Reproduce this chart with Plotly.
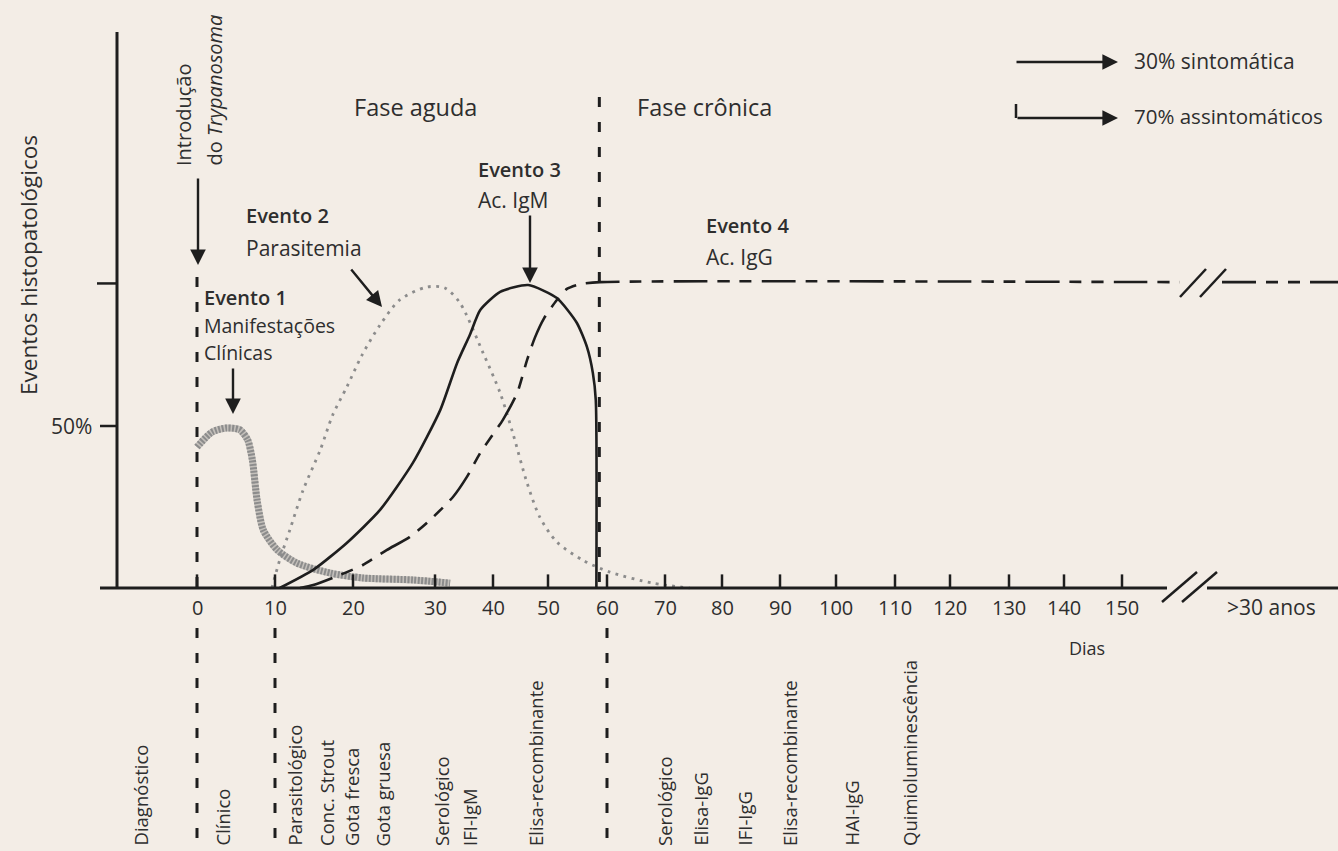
import numpy as np
import plotly.graph_objects as go

# ---------------- data ----------------
TICK_DAYS = [0, 10, 20, 30, 40, 50, 60, 70, 80, 90, 100, 110, 120, 130, 140, 150]
TICK_LABELS = [str(d) for d in TICK_DAYS]
LONG_TERM_LABEL = ">30 anos"

# Evento 1 - Manifestações clínicas
CLIN_DAYS = [0, 1.9, 3.8, 5.5, 6.5, 7.1, 7.7, 8.5, 10.3, 12.8, 17.1, 21.2, 27.3, 32.6]
CLIN_PCT = [43.5, 48.1, 49.4, 48.8, 45.7, 39.5, 27.2, 17.9, 11.7, 7.7, 4.6, 3.1, 2.5, 1.5]

# Evento 2 - Parasitemia
PARA_DAYS = [9.6, 10.6, 11.9, 13.6, 15.8, 17.4, 19.2, 21.1, 23.3, 25.7, 29.0, 31.7, 34.3,
             38.3, 41.3, 43.6, 46.2, 48.5, 51.5, 55.9, 60.5, 67.9, 74.3]
PARA_PCT = [0, 8.6, 17.9, 30.2, 42.6, 53.4, 62.0, 71.9, 81.2, 88.9, 92.9, 92.6, 88.0,
            72.5, 60.2, 47.8, 32.4, 21.9, 14.2, 8.6, 4.9, 1.5, 0]

# Evento 3 - Ac. IgM
IGM_DAYS = [10.6, 14.9, 19.2, 23.3, 27.3, 30.9, 33.8, 36.0, 37.8, 41.3, 46.4, 51.5, 54.9,
            56.6, 57.6, 58.1, 58.2]
IGM_PCT = [0, 5.6, 13.9, 24.1, 38.6, 54.9, 69.4, 78.1, 85.8, 91.4, 93.5, 89.5, 81.8,
           74.4, 66.4, 58.0, 0]

# Evento 4 - Ac. IgG
IGG_DAYS = [13.2, 14.9, 18.3, 21.2, 24.1, 26.9, 29.4, 33.1, 35.5, 37.8, 41.8, 44.4, 46.2,
            47.6, 49.3, 51.5, 53.2, 55.4, 58.8, 160]
IGG_PCT = [0, 0.9, 4.0, 7.1, 11.7, 15.7, 21.0, 28.1, 34.3, 41.7, 51.9, 60.2, 70.4,
           77.2, 83.3, 88.9, 92.3, 93.8, 94.4, 94.4]
IGG_LONG_TERM_PCT = 94.4

Y_TICKS = [50, 94]
Y_TICK_TEXT = ["50%", ""]

INTRO_DAY = 0
PHASE_BOUNDARY_DAY = 58.7
DIAG_MARKER_DAYS = [0, 10, 60]

DIAG_LABELS = ["Diagnóstico", "Clínico", "Parasitológico", "Conc. Strout", "Gota fresca",
               "Gota gruesa", "Serológico", "IFI-IgM", "Elisa-recombinante", "Serológico",
               "Elisa-IgG", "IFI-IgG", "Elisa-recombinante", "HAI-IgG", "Quimioluminescência"]

# ---------------- layout / scale ----------------
W, H = 1338, 851
BG = "#f3ede6"
INK = "#1e1e1e"
TXT = "#2e2e2e"
GRAY = "#8c8c8c"
FONT = "Open Sans"

# non-uniform time scale of the original drawing (position of each day tick)
TICK_POS = [197, 275, 353, 435, 493, 548, 607, 665, 722, 780, 836, 895, 950, 1009, 1064, 1122]
AXIS_PY = 588          # vertical position of 0 %
PX_PER_PCT = 3.24      # vertical scale
Y_RANGE = [-(H - AXIS_PY) / PX_PER_PCT, AXIS_PY / PX_PER_PCT]


def xpos(days):
    d = np.asarray(days, dtype=float)
    p = np.interp(d, TICK_DAYS, TICK_POS)
    slope = (TICK_POS[-1] - TICK_POS[-2]) / (TICK_DAYS[-1] - TICK_DAYS[-2])
    return np.where(d > TICK_DAYS[-1], TICK_POS[-1] + (d - TICK_DAYS[-1]) * slope, p)


def pct_of(py):
    return (AXIS_PY - py) / PX_PER_PCT


def P(px, py):
    return px / W, 1 - py / H


fig = go.Figure()

# clinical (striped grey band)
fig.add_trace(go.Scatter(x=xpos(CLIN_DAYS), y=CLIN_PCT, mode="lines",
                         line=dict(color="#c4c0bb", width=7, shape="spline", smoothing=0.7),
                         hoverinfo="skip", showlegend=False))
fig.add_trace(go.Scatter(x=xpos(CLIN_DAYS), y=CLIN_PCT, mode="lines",
                         line=dict(color=GRAY, width=7, shape="spline", smoothing=0.7, dash="2px,1.5px"),
                         hoverinfo="skip", showlegend=False))
# parasitemia (dotted)
fig.add_trace(go.Scatter(x=xpos(PARA_DAYS), y=PARA_PCT, mode="lines",
                         line=dict(color=GRAY, width=2.8, shape="spline", smoothing=0.8, dash="2.8px,5.5px"),
                         hoverinfo="skip", showlegend=False))
# IgM (solid)
fig.add_trace(go.Scatter(x=xpos(IGM_DAYS), y=IGM_PCT, mode="lines",
                         line=dict(color=INK, width=2.6, shape="spline", smoothing=0.6),
                         hoverinfo="skip", showlegend=False))
# IgG (dash-dot)
IGG_DASH = "34px,10px,12px,10px,12px,10px"
fig.add_trace(go.Scatter(x=xpos(IGG_DAYS), y=IGG_PCT, mode="lines",
                         line=dict(color=INK, width=2.6, shape="spline", smoothing=0.6, dash=IGG_DASH),
                         hoverinfo="skip", showlegend=False))
LONG_SEG = [1222, W]
fig.add_trace(go.Scatter(x=LONG_SEG, y=[IGG_LONG_TERM_PCT] * 2, mode="lines",
                         line=dict(color=INK, width=2.6, dash=IGG_DASH),
                         hoverinfo="skip", showlegend=False))

shapes = []


def seg(x0, y0, x1, y1, width=2.5, dash=None, color=INK, xref="x", yref="y"):
    line = dict(color=color, width=width)
    if dash:
        line["dash"] = dash
    shapes.append(dict(type="line", xref=xref, yref=yref, x0=x0, y0=y0, x1=x1, y1=y1, line=line))


# axes
seg(100, 0, 1167, 0, width=2.8)
seg(1207, 0, W, 0, width=2.8)
seg(117, 0, 117, pct_of(32), width=3)
for d in TICK_DAYS:
    x = float(xpos(d))
    seg(x, 0, x, 4.2, width=2.5)
seg(100, Y_TICKS[0], 117, Y_TICKS[0], width=2.5)
seg(97, Y_TICKS[1], 117, Y_TICKS[1], width=2.5)

# axis breaks
for dx in (0, 20):
    seg(1162 + dx, pct_of(602), 1197 + dx, pct_of(572), width=2.5)
    seg(1180 + dx, pct_of(297), 1206 + dx, pct_of(269), width=2.5)

# vertical dashed markers
VDASH = "10px,15px"
x0d = float(xpos(INTRO_DAY))
seg(x0d, pct_of(277), x0d, 0, width=3, dash=VDASH)
xb = float(xpos(PHASE_BOUNDARY_DAY))
seg(xb, pct_of(97), xb, 0, width=3, dash=VDASH)
for d in DIAG_MARKER_DAYS:
    x = float(xpos(d))
    seg(x, pct_of(628), x, pct_of(H), width=3, dash=VDASH)

# legend L-shaped connector
seg(1016 / W, 1 - 104 / H, 1016 / W, 1 - 118 / H, width=2.5, xref="paper", yref="paper")

anns = []


def txt(text, px, py, size=21, xa="left", ya="middle", angle=0, weight="normal", xref="paper"):
    x, y = P(px, py)
    anns.append(dict(text=text, x=x if xref == "paper" else px, y=y, xref=xref, yref="paper",
                     showarrow=False, xanchor=xa, yanchor=ya, textangle=angle, borderpad=0,
                     font=dict(family=FONT, size=size, color=TXT, weight=weight)))


def arrow(tip_px, tip_py, tail_px, tail_py):
    x, y = P(tip_px, tip_py)
    anns.append(dict(text="", x=x, y=y, xref="paper", yref="paper", showarrow=True,
                     ax=tail_px - tip_px, ay=tail_py - tip_py, axref="pixel", ayref="pixel",
                     arrowhead=2, arrowsize=1.3, arrowwidth=2.4, arrowcolor=INK, standoff=0))


txt("Eventos histopatológicos", 28, 265, size=22.5, xa="center", angle=-90)
txt(Y_TICK_TEXT[0], 93, 426, size=21, xa="right")
txt("Introdução", 183, 167, size=20, xa="center", ya="bottom", angle=-90)
txt("do <i>Trypanosoma</i>", 214, 167, size=20, xa="center", ya="bottom", angle=-90)
txt("Evento 1", 203, 297, size=20, weight=600)
txt("Manifestações", 203, 326, size=19.5)
txt("Clínicas", 203, 353, size=19.5)
txt("Evento 2", 245, 215, size=20, weight=600)
txt("Parasitemia", 245, 248, size=21)
txt("Fase aguda", 353, 107, size=23.5)
txt("Fase crônica", 636, 107, size=23.5)
txt("Evento 3", 477, 169, size=20, weight=600)
txt("Ac. IgM", 477, 200, size=21)
txt("Evento 4", 705, 226, size=20, weight=600)
txt("Ac. IgG", 705, 257, size=21)
txt("30% sintomática", 1133, 61, size=21)
txt("70% assintomáticos", 1133, 116, size=20.5)
for d, lab in zip(TICK_DAYS, TICK_LABELS):
    txt(lab, float(xpos(d)), 607, size=20, xa="center", xref="x")
txt(LONG_TERM_LABEL, 1271, 607, size=21, xa="center")
txt("Dias", 1087, 648, size=18, xa="center")

DIAG_PX = [140, 222, 294, 326, 351, 382, 441, 469, 535, 664, 700, 744, 789, 851, 909]
for lab, px in zip(DIAG_LABELS, DIAG_PX):
    txt(lab, px, 847, size=18.5, xa="center", ya="bottom", angle=-90)

arrow(198, 265, 198, 177)
arrow(233, 414, 233, 367)
arrow(382, 307, 350, 268)
arrow(530, 283, 530, 214)
arrow(1118, 62, 1015, 62)
arrow(1118, 118, 1016, 118)

fig.update_layout(
    width=W, height=H, margin=dict(l=0, r=0, t=0, b=0),
    paper_bgcolor=BG, plot_bgcolor=BG,
    xaxis=dict(range=[0, W], visible=False, fixedrange=True),
    yaxis=dict(range=Y_RANGE, visible=False, fixedrange=True),
    shapes=shapes, annotations=anns, showlegend=False,
)
fig.write_html("out.html", config={"displayModeBar": False},
               post_script="document.body.style.margin='0';document.body.style.overflow='hidden';")
